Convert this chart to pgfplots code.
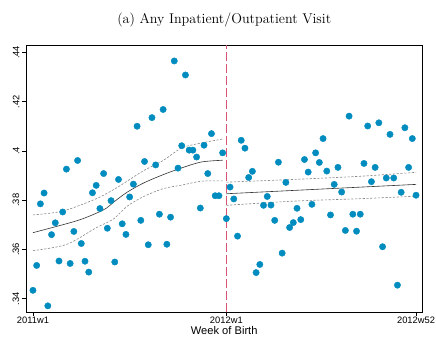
\documentclass[border=0pt]{standalone}
\usepackage{fontspec}
\newfontfamily\arial{Liberation Sans}
\usepackage{pgfplots}
\pgfplotsset{compat=1.18}
\usepackage{pgfplotstable}
\definecolor{dotblue}{RGB}{0,140,190}
\definecolor{cutred}{RGB}{218,84,118}
\definecolor{cigray}{RGB}{135,135,135}
\definecolor{fitgray}{RGB}{50,50,50}
\pgfplotstableread{
w v
1 .3434
2 .3535
3 .3785
4 .3829
5 .3371
6 .3660
7 .3708
8 .3553
9 .3752
10 .3926
11 .3543
12 .3673
13 .3961
14 .3624
15 .3552
16 .3508
17 .3830
18 .3860
19 .3766
20 .3908
21 .3686
22 .3798
23 .3549
24 .3884
25 .3704
26 .3661
27 .3813
28 .3865
29 .4100
30 .3718
31 .3957
32 .3619
33 .4135
34 .3943
35 .3743
36 .4168
37 .3621
38 .3731
39 .4365
40 .3930
41 .4021
42 .4308
43 .4003
44 .4003
45 .3975
46 .3768
47 .4023
48 .3908
49 .4070
50 .3818
51 .3818
52 .3992
53 .3725
54 .3853
55 .3805
56 .3654
57 .4043
58 .4011
59 .3892
60 .3917
61 .3506
62 .3539
63 .3779
64 .3815
65 .3780
66 .3718
67 .3954
68 .3585
69 .3872
70 .3689
71 .3709
72 .3767
73 .3721
74 .3965
75 .3914
76 .3783
77 .3992
78 .3953
79 .4050
80 .3918
81 .3740
82 .3864
83 .3933
84 .3833
85 .3677
86 .4141
87 .3743
88 .3674
89 .3743
90 .3949
91 .4101
92 .3875
93 .3933
94 .4114
95 .3611
96 .3890
97 .4067
98 .3890
99 .3455
100 .3832
101 .4094
102 .3933
103 .4050
104 .3820
}\dotdata
\begin{document}
\begin{tikzpicture}
\begin{axis}[
  name=ax, at={(0,0)}, anchor=south west,
  scale only axis, width=396.5bp, height=267.7bp,
  xmin=-0.75, xmax=105.6, ymin=0.3345, ymax=0.4429,
  axis line style={black, line width=0.7pt},
  xtick={1,53,104}, xticklabels={2011w1,2012w1,2012w52},
  ytick={0.34,0.36,0.38,0.40,0.42,0.44},
  yticklabels={.34,.36,.38,.4,.42,.44},
  tick align=outside, major tick length=4bp,
  tick style={black, line width=0.6pt},
  xtick pos=bottom, ytick pos=left,
  xticklabel style={font=\arial\fontsize{9.4}{11}\selectfont, inner sep=1pt},
  yticklabel style={font=\arial\fontsize{9.4}{11}\selectfont, rotate=90, anchor=south, inner sep=1pt},
  yticklabel shift=2bp,
  xlabel={Week of Birth},
  xlabel style={font=\arial\fontsize{11.2}{13}\selectfont, inner sep=0pt, yshift=-1bp},
  title={(a) Any Inpatient/Outpatient Visit},
  title style={font=\fontsize{14.2}{17}\selectfont, yshift=9bp},
  clip=true,
]
\addplot[only marks, mark=*, mark size=3.2pt, color=dotblue, mark options={draw=dotblue, fill=dotblue}] table[x=w, y=v] {\dotdata};
% left fit
\addplot[fitgray, line width=0.6pt, smooth] coordinates {
(1,.3668) (12.5,.3715) (17.9,.3746) (20.8,.3768) (22.7,.3792) (26.3,.3832) (30.8,.3870) (36.1,.3904) (41,.3931) (46.3,.3955) (52,.3962)};
\addplot[cigray, line width=0.6pt, dash pattern=on 2.2bp off 1.6bp, smooth] coordinates {
(1,.3740) (9.1,.3756) (17.9,.3805) (22.7,.3843) (26.3,.3877) (30.8,.3920) (36.1,.3962) (41,.4012) (46.3,.4032) (52,.4048)};
\addplot[cigray, line width=0.6pt, dash pattern=on 2.2bp off 1.6bp, smooth] coordinates {
(1,.3595) (10,.3620) (17.9,.3687) (22.7,.3724) (26.3,.3775) (30.8,.3815) (36.1,.3847) (41,.3861) (46.3,.3877) (52,.3878)};
% right fit
\addplot[fitgray, line width=0.6pt] coordinates {(53,.3826) (104,.3864)};
\addplot[cigray, line width=0.6pt, dash pattern=on 2.2bp off 1.6bp, smooth] coordinates {
(53,.3873) (71,.3884) (89,.3897) (104,.3913)};
\addplot[cigray, line width=0.6pt, dash pattern=on 2.2bp off 1.6bp, smooth] coordinates {
(53,.3779) (71,.3796) (89,.3806) (104,.3816)};
% cutoff
\addplot[cutred, line width=1.1pt, dash pattern=on 9bp off 3bp] coordinates {(53,0.3345) (53,0.4429)};
\end{axis}
\path (-26.5bp,-26bp) rectangle (409.5bp,313bp);
\end{tikzpicture}
\end{document}
